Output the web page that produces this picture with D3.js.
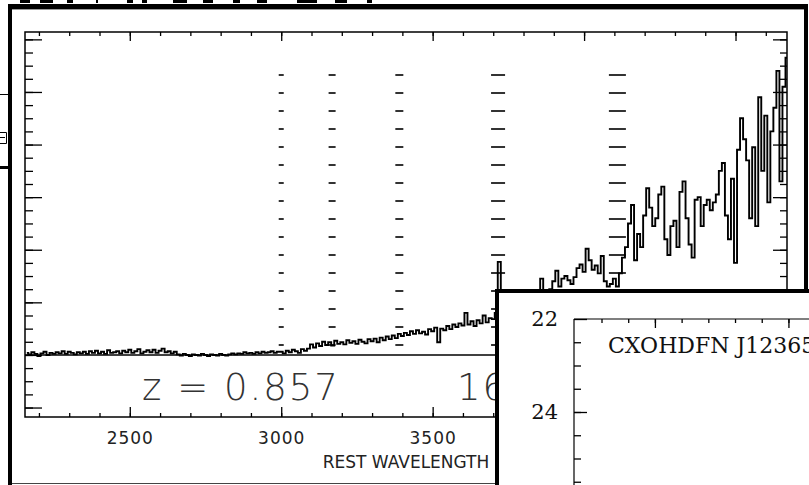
<!DOCTYPE html>
<html>
<head>
<meta charset="utf-8">
<script src="https://d3js.org/d3.v7.min.js"></script>
<style>
  body { margin: 0; background: #fff; }
  svg { display: block; }
  .ax path { display: none; }
  .ax line { stroke: #000; stroke-width: 1.3; }
</style>
</head>
<body>
<div id="my_dataviz"></div>
<script>
// rest frame spectrum, one value every 10 A starting at 2160 A
var waveStart = 2160, waveStep = 10;
var fluxBlue = [
  0.04,0.01,0.05,0.02,-0.02,0.03,0.06,0.00,0.04,0.02,
  0.05,0.03,0.07,0.02,0.06,0.04,0.01,0.05,0.03,0.06,
  0.02,0.07,0.04,0.08,0.03,0.06,0.02,0.09,0.04,0.05,
  0.07,0.03,0.08,0.05,0.10,0.04,0.07,0.11,0.03,0.06,
  0.09,0.05,0.10,0.04,0.08,0.12,0.05,0.07,0.03,0.06,
  0.01,-0.01,0.02,0.00,-0.02,0.01,0.00,-0.01,0.02,0.00,
  -0.02,0.01,0.00,-0.01,0.02,0.00,-0.01,0.01,0.03,0.01,
  0.03,0.02,0.05,0.03,0.04,0.02,0.05,0.03,0.06,0.04,
  0.05,0.07,0.04,0.06];
var fluxMid = [
  0.06,0.03,0.08,0.05,0.10,0.07,0.04,0.11,0.08,0.12,
  0.20,0.14,0.22,0.17,0.25,0.19,0.24,0.18,0.27,0.21,
  0.24,0.20,0.28,0.23,0.26,0.21,0.29,0.25,0.22,0.30,
  0.26,0.31,0.24,0.33,0.28,0.35,0.30,0.37,0.32,0.40,
  0.36,0.42,0.38,0.45,0.40,0.47,0.41,0.44,0.39,0.49,
  0.45,0.52,0.24,0.50,0.47,0.55,0.49,0.58,0.53,0.60,
  0.56,0.80,0.58,0.64,0.55,0.66,0.60,0.75,0.62,0.70,
  0.68];
var fluxRed = [
  0.80,1.77,0.95,
  0.92,1.05,0.88,1.10,0.97,1.15,1.02,0.94,1.12,1.08,1.18,1.00,
  1.45,1.20,1.05,1.25,1.40,1.60,1.30,1.45,1.50,1.42,
  1.35,1.48,1.65,1.72,1.58,2.02,1.80,1.62,1.70,1.55,
  1.88,1.40,1.30,1.35,1.45,1.30,1.55,1.85,2.05,2.50,
  2.85,1.80,2.30,2.05,2.65,3.17,2.80,2.45,2.60,3.05,
  3.20,2.20,1.90,2.45,2.55,2.05,3.10,3.30,2.60,2.10,
  1.85,2.95,3.00,2.45,2.85,2.95,2.75,2.90,3.05,3.50,
  3.65,2.65,2.20,3.35,1.75,3.90,4.50,4.10,3.70,2.60,
  3.95,2.45,4.90,3.50,4.55,2.90,4.25,4.70,5.40,3.30,
  5.10,5.65];

// line markers (rest wavelength, dash width)
var lineWaves = [3000, 3168, 3390, 3716, 4110];
var lineWidths = [5, 7, 8, 14, 17];

var xMajor = [2500, 3000, 3500, 4000, 4500];
var xTitle = "REST WAVELENGTH";
var zLabel = "z = 0.857";
var sideLabel = "16";

// second (overlapping) panel
var magLabelValues = [22, 24];
var objName = "CXOHDFN J12365";

// bits of the panel behind, along the top edge
var topBits = [[20,30],[40,53],[67,73],[96,98],[127,133],[142,147],[173,187],[203,213],[233,240],[257,267],[297,317],[335,347],[367,372]];

var W = 809, H = 485;
var svg = d3.select("#my_dataviz")
  .append("svg")
    .attr("width", W)
    .attr("height", H);

svg.append("rect").attr("width", W).attr("height", H).attr("fill", "#fff");

// fragments of the hidden panel
svg.selectAll(".bit")
  .data(topBits)
  .enter()
  .append("rect")
    .attr("x", function(d){ return d[0]; })
    .attr("y", 0)
    .attr("width", function(d){ return d[1] - d[0]; })
    .attr("height", 3)
    .attr("fill", "#000");
svg.append("line").attr("x1", 0).attr("x2", 8).attr("y1", 94.5).attr("y2", 94.5).attr("stroke", "#000");
svg.append("path").attr("d", "M0,132.5H6.5V143.5H0M0,137.5H5").attr("fill", "none").attr("stroke", "#000");
svg.append("rect").attr("x", 0).attr("y", 166).attr("width", 8).attr("height", 3).attr("fill", "#000");

// ---------- main spectrum panel ----------
var main = svg.append("g");
main.append("rect").attr("x", 8).attr("y", 4).attr("width", 800).attr("height", 480).attr("fill", "#fff");
main.append("line").attr("x1", 8).attr("x2", 497).attr("y1", 483.5).attr("y2", 483.5).attr("stroke", "#444");
main.append("line").attr("x1", 10).attr("x2", 10).attr("y1", 4).attr("y2", 485).attr("stroke", "#000").attr("stroke-width", 4);
main.append("line").attr("x1", 8).attr("x2", 808).attr("y1", 6.5).attr("y2", 6.5).attr("stroke", "#000").attr("stroke-width", 5);
main.append("line").attr("x1", 806).attr("x2", 806).attr("y1", 4).attr("y2", 292).attr("stroke", "#000").attr("stroke-width", 4);
main.append("line").attr("x1", 12).attr("x2", 804).attr("y1", 9.5).attr("y2", 9.5).attr("stroke", "#999");

var x = d3.scaleLinear().domain([2154, 4670]).range([25, 787]);
var y = d3.scaleLinear().domain([-1.18, 6.14]).range([417, 32]);

var flux = fluxBlue.concat(fluxMid, fluxRed);
var spec = flux.map(function(f, i){ return {w: waveStart + i * waveStep, f: f}; });

main.append("clipPath").attr("id", "plotclip")
  .append("rect").attr("x", 25).attr("y", 32).attr("width", 762).attr("height", 385);

// line id markers, drawn as stacks of short dashes
main.selectAll(".mark")
  .data(lineWaves)
  .enter()
  .append("line")
    .attr("class", "mark")
    .attr("x1", function(d){ return x(d); })
    .attr("x2", function(d){ return x(d); })
    .attr("y1", 74)
    .attr("y2", 350)
    .attr("stroke", "#333")
    .attr("stroke-width", function(d, i){ return lineWidths[i]; })
    .attr("stroke-dasharray", "2,16");

// zero level
main.append("line")
  .attr("x1", 25).attr("x2", 787)
  .attr("y1", y(0)).attr("y2", y(0))
  .attr("stroke", "#000").attr("stroke-width", 1.5);

main.append("path")
  .datum(spec)
  .attr("clip-path", "url(#plotclip)")
  .attr("fill", "none")
  .attr("stroke", "#000")
  .attr("stroke-width", 1.9)
  .attr("d", d3.line()
    .curve(d3.curveStep)
    .x(function(d){ return x(d.w); })
    .y(function(d){ return y(d.f); }));

// frame
main.append("rect").attr("x", 25).attr("y", 32).attr("width", 762).attr("height", 385)
  .attr("fill", "none").attr("stroke", "#000").attr("stroke-width", 1.5);

// ticks, all pointing inward
var xMinor = d3.range(2200, 4700, 100);
var yMajor = d3.range(-1, 7, 1);
var yMinor = d3.range(-1, 6.2, 0.25);

main.append("g").attr("class", "ax").attr("transform", "translate(0,417)")
  .call(d3.axisBottom(x).tickValues(xMinor).tickSize(-4).tickFormat(""));
var xb = main.append("g").attr("class", "ax").attr("transform", "translate(0,417)")
  .call(d3.axisBottom(x).tickValues(xMajor).tickSize(-10).tickPadding(15).tickFormat(d3.format("d")));
xb.selectAll("text")
  .style("font-family", "DejaVu Sans")
  .style("font-size", "17px")
  .style("letter-spacing", "1px")
  .attr("fill", "#222");
main.append("g").attr("class", "ax").attr("transform", "translate(0,32)")
  .call(d3.axisTop(x).tickValues(xMinor).tickSize(-4).tickFormat(""));
main.append("g").attr("class", "ax").attr("transform", "translate(0,32)")
  .call(d3.axisTop(x).tickValues(xMajor).tickSize(-9).tickFormat(""));

main.append("g").attr("class", "ax").attr("transform", "translate(25,0)")
  .call(d3.axisLeft(y).tickValues(yMinor).tickSize(-8).tickFormat(""));
main.append("g").attr("class", "ax").attr("transform", "translate(25,0)")
  .call(d3.axisLeft(y).tickValues(yMajor).tickSize(-17).tickFormat(""));
main.append("g").attr("class", "ax").attr("transform", "translate(787,0)")
  .call(d3.axisRight(y).tickValues(yMinor).tickSize(-7).tickFormat(""));
main.append("g").attr("class", "ax").attr("transform", "translate(787,0)")
  .call(d3.axisRight(y).tickValues(yMajor).tickSize(-14).tickFormat(""));

main.append("text")
  .attr("x", 406).attr("y", 468)
  .attr("text-anchor", "middle")
  .style("font-family", "DejaVu Sans")
  .style("font-size", "17px")
  .attr("fill", "#222")
  .text(xTitle);

main.append("text")
  .attr("x", 142).attr("y", 400)
  .style("font-family", "DejaVu Sans")
  .style("font-weight", 200)
  .style("font-size", "37px")
  .style("letter-spacing", "2px")
  .attr("fill", "#333")
  .text(zLabel);
main.append("text")
  .attr("x", 457).attr("y", 400)
  .style("font-family", "DejaVu Sans")
  .style("font-weight", 200)
  .style("font-size", "37px")
  .style("letter-spacing", "2px")
  .attr("fill", "#333")
  .text(sideLabel);

// ---------- second panel, lying on top ----------
var p2 = svg.append("g");
p2.append("rect").attr("x", 497).attr("y", 289).attr("width", 320).attr("height", 200).attr("fill", "#fff");
p2.append("line").attr("x1", 497).attr("x2", 497).attr("y1", 289).attr("y2", 490).attr("stroke", "#000").attr("stroke-width", 4);
p2.append("line").attr("x1", 495).attr("x2", 815).attr("y1", 291).attr("y2", 291).attr("stroke", "#000").attr("stroke-width", 4);

var x2 = d3.scaleLinear().domain([-3.03, 5.77]).range([574, 809]);
var y2 = d3.scaleLinear().domain([22, 25.57]).range([319, 485]);

p2.append("line").attr("x1", 574).attr("x2", 574).attr("y1", 319).attr("y2", 490).attr("stroke", "#000").attr("stroke-width", 1.2);
p2.append("line").attr("x1", 574).attr("x2", 815).attr("y1", 319).attr("y2", 319).attr("stroke", "#000").attr("stroke-width", 1.2);

p2.append("g").attr("class", "ax").attr("transform", "translate(0,319)")
  .call(d3.axisTop(x2).tickValues(d3.range(-2, 6, 1)).tickSize(-4).tickFormat(""));
p2.append("g").attr("class", "ax").attr("transform", "translate(0,319)")
  .call(d3.axisTop(x2).tickValues([0, 5]).tickSize(-9).tickFormat(""));

p2.append("g").attr("class", "ax").attr("transform", "translate(574,0)")
  .call(d3.axisLeft(y2).tickValues(d3.range(22.5, 25.6, 0.5)).tickSize(-7).tickFormat(""));
var yl = p2.append("g").attr("class", "ax").attr("transform", "translate(574,0)")
  .call(d3.axisLeft(y2).tickValues(magLabelValues).tickSize(-13).tickPadding(16).tickFormat(d3.format("d")));
yl.selectAll("text")
  .style("font-family", "DejaVu Serif")
  .style("font-size", "21px")
  .attr("fill", "#111");

p2.append("text")
  .attr("x", 608).attr("y", 353)
  .style("font-family", "DejaVu Serif")
  .style("font-size", "22px")
  .attr("fill", "#111")
  .text(objName);
</script>
</body>
</html>
